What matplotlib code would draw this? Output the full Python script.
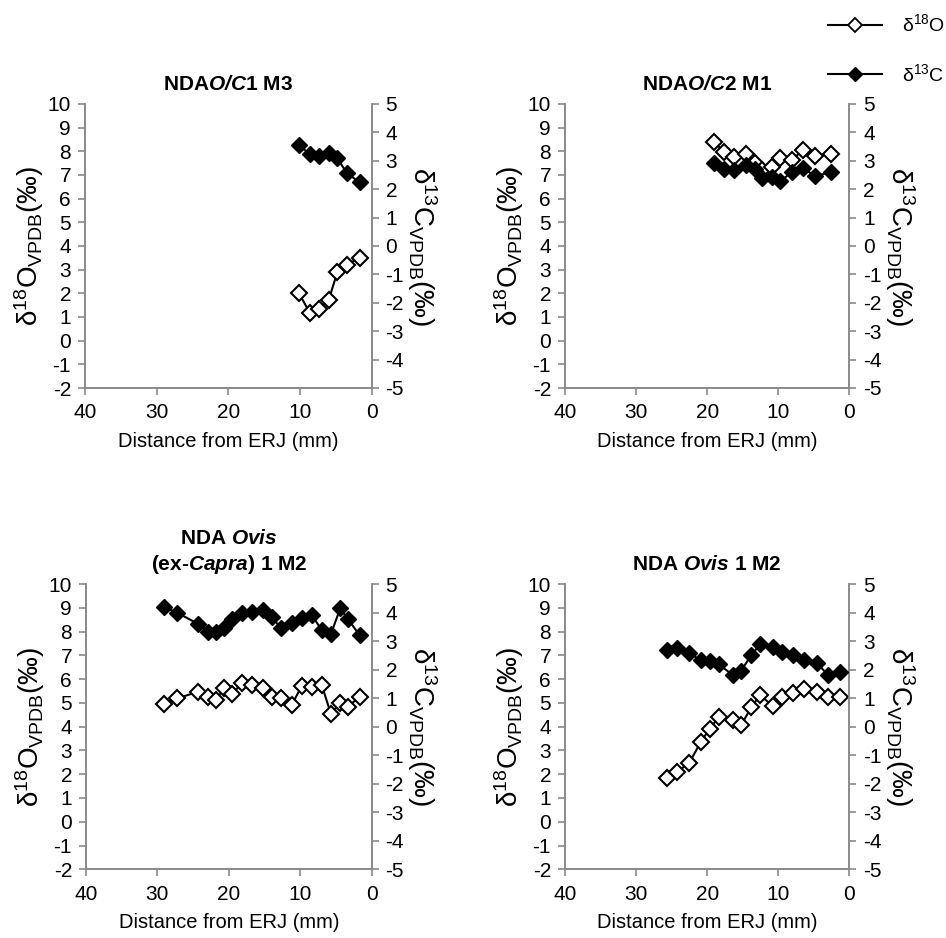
import matplotlib
matplotlib.use("Agg")
import matplotlib.pyplot as plt
from matplotlib.lines import Line2D

plt.rcParams['font.family'] = ['Liberation Sans', 'DejaVu Sans']
plt.rcParams['mathtext.fontset'] = 'custom'
plt.rcParams['mathtext.rm'] = 'Liberation Sans'
plt.rcParams['mathtext.it'] = 'Liberation Sans:italic'
plt.rcParams['mathtext.bf'] = 'Liberation Sans:bold'
plt.rcParams['mathtext.bfit'] = 'Liberation Sans:bold:italic'
plt.rcParams['axes.unicode_minus'] = False

# distance from ERJ (mm), d18O and d13C (per mil VPDB) for each tooth
p1_x = [10.2, 8.6, 7.3, 6.0, 4.8, 3.5, 1.7]
p1_d18o = [2.03, 1.16, 1.33, 1.72, 2.89, 3.2, 3.51]
p1_d13c = [3.56, 3.23, 3.17, 3.26, 3.09, 2.58, 2.24]

p2_x = [19.1, 17.6, 16.2, 14.5, 13.3, 12.3, 10.9, 9.7, 8.1, 6.5, 4.8, 2.6]
p2_d18o = [8.41, 7.98, 7.75, 7.89, 7.5, 7.2, 7.35, 7.7, 7.63, 8.06, 7.8, 7.89]
p2_d13c = [2.93, 2.72, 2.66, 2.86, 2.72, 2.39, 2.43, 2.28, 2.6, 2.74, 2.46, 2.6]

p3_x = [29.1, 27.2, 24.3, 22.9, 21.8, 20.7, 19.5, 18.2, 16.8, 15.2,
        14.0, 12.7, 11.2, 9.8, 8.4, 7.0, 5.7, 4.4, 3.3, 1.7]
p3_d18o = [4.95, 5.19, 5.47, 5.26, 5.12, 5.61, 5.37, 5.85, 5.75, 5.61,
           5.26, 5.22, 4.91, 5.71, 5.66, 5.75, 4.53, 5.01, 4.84, 5.26]
p3_d13c = [4.2, 3.99, 3.6, 3.33, 3.33, 3.47, 3.76, 3.97, 4.03, 4.09,
           3.85, 3.45, 3.62, 3.8, 3.91, 3.39, 3.25, 4.15, 3.76, 3.21]

p4_x = [25.7, 24.2, 22.5, 20.9, 19.6, 18.4, 16.4, 15.2, 13.8, 12.5,
        10.8, 9.4, 7.9, 6.4, 4.6, 3.0, 1.3]
p4_d18o = [1.82, 2.1, 2.48, 3.36, 3.92, 4.39, 4.3, 4.06, 4.83, 5.33,
           4.86, 5.23, 5.42, 5.57, 5.47, 5.23, 5.23]
p4_d13c = [2.68, 2.74, 2.57, 2.33, 2.31, 2.19, 1.81, 1.96, 2.51, 2.89,
           2.8, 2.62, 2.51, 2.33, 2.24, 1.81, 1.92]

titles = [r"NDA$\mathbfit{O/C}$1 M3",
          r"NDA$\mathbfit{O/C}$2 M1",
          "NDA $\\mathbfit{Ovis}$\n(ex-$\\mathbfit{Capra}$) 1 M2",
          r"NDA $\mathbfit{Ovis}$ 1 M2"]

x_ticks = [40, 30, 20, 10, 0]
o_ticks = list(range(-2, 11))
c_ticks = list(range(-5, 6))

grey = '#8a8a8a'
W, H = 946, 938
rects = [(85, 104, 371.7, 388), (565, 104, 849.3, 388),
         (86, 584, 371.7, 869.3), (565, 584, 849.3, 869.3)]

fig = plt.figure(figsize=(W / 100, H / 100), dpi=100)

panels = [(p1_x, p1_d18o, p1_d13c), (p2_x, p2_d18o, p2_d13c),
          (p3_x, p3_d18o, p3_d13c), (p4_x, p4_d18o, p4_d13c)]

for (x0, y0, x1, y1), (xs, d18o, d13c), title in zip(rects, panels, titles):
    ax = fig.add_axes([x0 / W, 1 - y1 / H, (x1 - x0) / W, (y1 - y0) / H])
    ax2 = ax.twinx()

    ax.plot(xs, d18o, '-', color='black', lw=1.5, marker='D', ms=8,
            mfc='white', mec='black', mew=1.5, zorder=3)
    ax2.plot(xs, d13c, '-', color='black', lw=1.5, marker='D', ms=8,
             mfc='black', mec='black', zorder=3)

    ax.set_xlim(40, 0)
    ax.set_ylim(-2, 10)
    ax2.set_ylim(-5, 5)
    ax.set_xticks(x_ticks)
    ax.set_yticks(o_ticks)
    ax2.set_yticks(c_ticks)

    for a in (ax, ax2):
        a.spines['top'].set_visible(False)
        for s in ('left', 'right', 'bottom'):
            a.spines[s].set_color(grey)
            a.spines[s].set_linewidth(1.2)
        a.tick_params(colors=grey, labelcolor='black', labelsize=15,
                      length=5, width=1.2, direction='out')
    ax.tick_params(axis='y', pad=5)
    ax2.tick_params(axis='y', pad=5)
    ax.tick_params(axis='x', pad=6)

    ax.set_xlabel("Distance from ERJ (mm)", fontsize=14.5, labelpad=7)
    ax.set_ylabel("δ$^{18}$O$_{\\mathrm{VPDB}}$(‰)", fontsize=20,
                  labelpad=1)
    ax2.set_ylabel("δ$^{13}$C$_{\\mathrm{VPDB}}$(‰)", fontsize=20,
                   rotation=270, labelpad=25)
    ax.set_title(title, fontsize=15, fontweight='bold', pad=10,
                 linespacing=1.3)

handles = [Line2D([], [], color='black', lw=1.5, marker='D', ms=7,
                  mfc='white', mec='black', mew=1.3),
           Line2D([], [], color='black', lw=1.5, marker='D', ms=7,
                  mfc='black', mec='black')]
fig.legend(handles, ["δ$^{18}$O", "δ$^{13}$C"],
           loc='upper left', bbox_to_anchor=(814 / W, 1.0), frameon=False,
           fontsize=14, handlelength=2.8, handletextpad=1.0,
           labelspacing=1.4, borderaxespad=0.3)

fig.savefig("out.png", dpi=100)
